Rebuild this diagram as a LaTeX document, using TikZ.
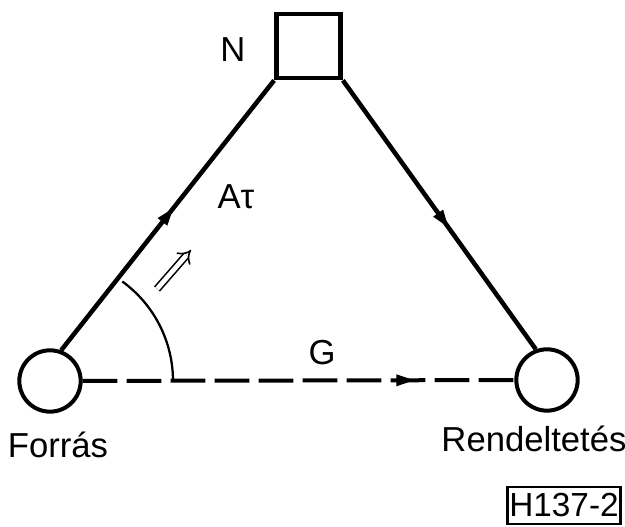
\documentclass[tikz,border=0pt]{standalone}
\usepackage{fontspec}
\setmainfont{Liberation Sans}
\usepackage{tikz}
\usetikzlibrary{arrows.meta,positioning,decorations.markings}
\newcommand\lblfont{\fontsize{26}{30}\selectfont}
\tikzset{
  stn/.style={circle,draw=black,line width=3pt,minimum size=46pt,inner sep=0pt},
  nbx/.style={rectangle,draw=black,line width=3.6pt,minimum size=48pt,inner sep=0pt},
  lbl/.style={font=\lblfont,inner sep=1pt},
  path/.style={line width=3.4pt},
  fwd/.style={postaction={decorate},
              decoration={markings,mark=at position #1 with
                {\arrow{Triangle[length=14pt,width=8pt]}}}},
  dsh/.style={line width=3pt,dash pattern=on 26pt off 7pt},
  ang/.style={line width=1.7pt},
  dbl/.style={double,line width=1.2pt,double distance=3.5pt,-{Implies}},
  tag/.style={draw=black,line width=1.8pt,font=\fontsize{25}{28}\selectfont,
              inner sep=0pt,minimum width=85pt,minimum height=27.5pt},
}
\begin{document}
\begin{tikzpicture}[x=0.75pt,y=0.75pt]
  \useasboundingbox (0,0) rectangle (625,527);
  % stations
  \node[stn] (src) at (50,146) {};
  \node[stn] (dst) at (547,147) {};
  \node[nbx] (nbox) at (308.5,481) {};
  \node[lbl] (nlbl) at (233,477) {N};
  % labels
  \node[lbl] (srclbl) at (58,82) {Forrás};
  \node[lbl] (dstlbl) at (534,88) {Rendeltetés};
  \node[lbl] (atlbl) at (236,330) {Aτ};
  \node[lbl] (glbl) at (322,174) {G};
  \node[tag] (code) at (564,21.5) {H137-2};
  % path via N
  \draw[path,fwd=0.53] (src.70) -- (nbox.south west);
  \draw[path,fwd=0.55] (nbox.south east) -- (dst.110);
  % direct
  \draw[dsh,fwd=0.77] (src) -- (dst);
  % angle
  \draw[ang] (src.center) ++(123,0) arc[start angle=0,end angle=54,radius=123];
  \coordinate (dsA) at (157,238);
  \coordinate (dsB) at (191,277);
  \draw[dbl] (dsA) -- (dsB);
\end{tikzpicture}
\end{document}
